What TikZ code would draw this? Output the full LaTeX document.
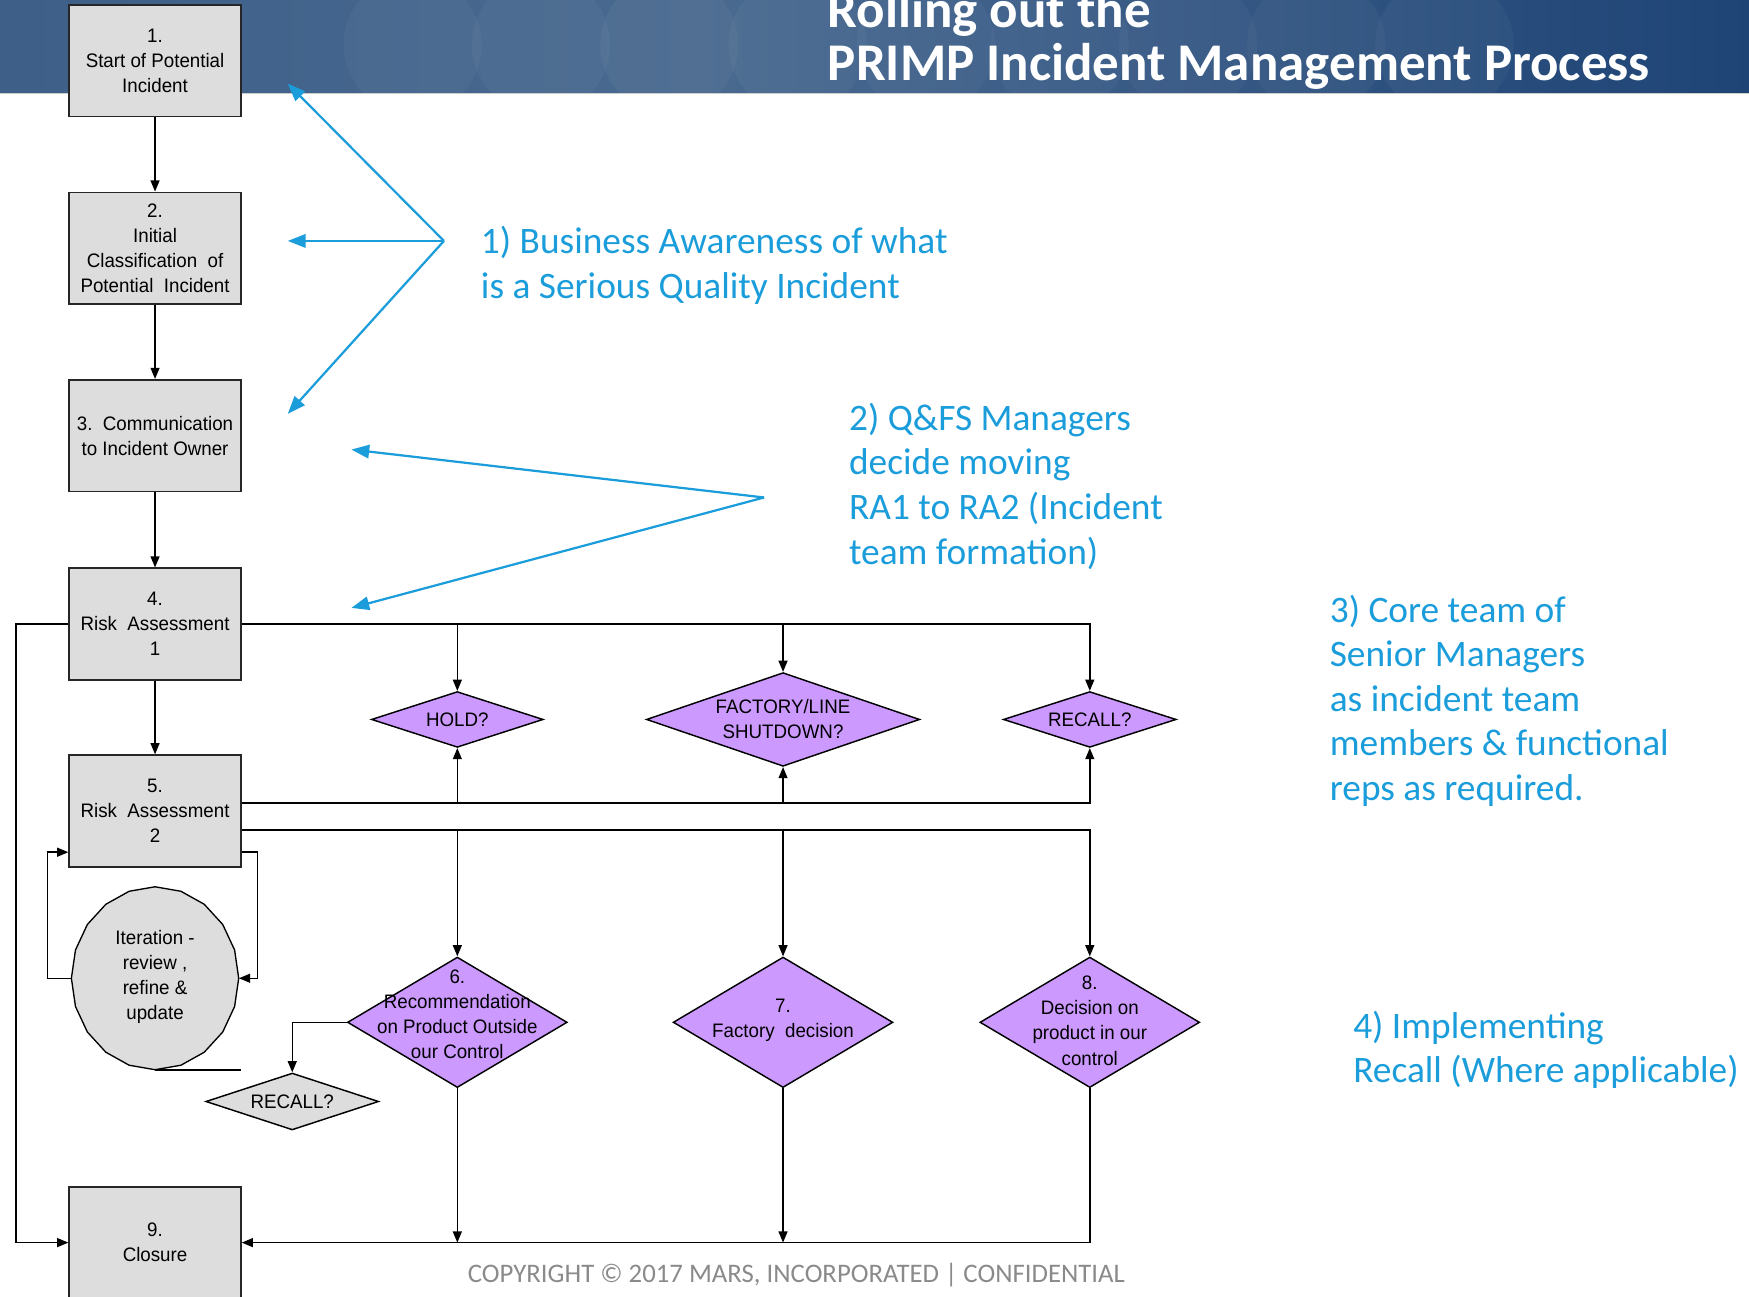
\documentclass[tikz,border=0pt]{standalone}
\usepackage{fontspec}
\setmainfont{Carlito}
\newfontfamily\boxfont[FakeStretch=0.96]{Liberation Sans}
\usetikzlibrary{arrows.meta,shapes.geometric}
\definecolor{hA}{HTML}{062858}
\definecolor{hB}{HTML}{3A5C86}
\definecolor{hC}{HTML}{4A6A90}
\definecolor{hD}{HTML}{1E4476}
\definecolor{hE}{HTML}{0C3060}
\definecolor{boxgray}{HTML}{DDDDDD}
\definecolor{lav}{HTML}{CC99FF}
\definecolor{ablue}{HTML}{1A9DDA}
\definecolor{cgray}{HTML}{8A8A8A}
\pgfdeclarehorizontalshading{hdr}{100bp}{color(0bp)=(hA); color(20bp)=(hB); color(45bp)=(hC); color(75bp)=(hD); color(100bp)=(hE)}
\begin{document}
\begin{tikzpicture}[x=1pt,y=-1pt,
  box/.style={draw=black!85, fill=boxgray, line width=1.5pt, minimum width=154pt, minimum height=100pt, inner sep=0pt, align=center, font=\boxfont\fontsize{17.5}{22.5}\selectfont},
  dia/.style={diamond, draw=black, fill=lav, line width=1.3pt, inner sep=0pt},
  lbl/.style={align=center, inner sep=0pt, font=\boxfont\fontsize{17.5}{22.5}\selectfont},
  conn/.style={line width=1.3pt},
  arr/.style={line width=1.3pt, -{Triangle[length=10pt,width=8pt]}},
  barr/.style={draw=ablue, line width=2pt, -{Triangle[length=16pt,width=12pt]}},
  note/.style={text=ablue, font=\fontsize{33.5}{40}\selectfont, align=left, anchor=north west, inner sep=0pt}]
\useasboundingbox (0,0) rectangle (1568,1162);
\clip (0,0) rectangle (1568,1162);
% header band
\shade[shading=hdr] (0,0) rectangle (1568,83);
\foreach \cx in {370,485,600,715,830,950,1065,1180,1295}
  \fill[white, opacity=0.035] (\cx,40) circle (62);
\draw[line width=1pt, draw=gray!40] (0,83.5) -- (1568,83.5);
\node[anchor=base west, inner sep=0pt, text=white, font=\bfseries\fontsize{47.5}{50}\selectfont] (t1) at (742,25) {Rolling out the};
\node[anchor=base west, inner sep=0pt, text=white, font=\bfseries\fontsize{47.5}{50}\selectfont] (t2) at (742,72) {PRIMP Incident Management Process};

% boxes
\node[box] (b1) at (139,54.5) {1.\\Start of Potential\\Incident};
\node[box] (b2) at (139,222.5) {2.\\Initial\\Classification\ \ of\\Potential\ \ Incident};
\node[box] (b3) at (139,390.5) {3.\ \ Communication\\to\ Incident\ Owner};
\node[box] (b4) at (139,559.5) {4.\\Risk\ \ Assessment\\1};
\node[box] (b5) at (139,727) {5.\\Risk\ \ Assessment\\2};
\node[box] (b9) at (139,1114) {9.\\Closure};

% iteration ellipse
\node[ellipse, minimum width=150pt, minimum height=164pt, inner sep=0pt] (it) at (139,877) {};
\draw[line width=1.2pt, fill=boxgray] plot[domain=0:360, samples=21] ({139+75*cos(\x)},{877+82*sin(\x)}) -- cycle;
\node[lbl] (itt) at (139,876) {Iteration\ -\\review ,\\refine \&\\update};
\draw[conn] (it.south) -- ++(77,0);

% diamonds
\node[dia, minimum width=154pt, minimum height=50pt] (hold) at (410,645) {};
\node[lbl] (holdt) at (hold.center) {HOLD?};
\node[dia, minimum width=245pt, minimum height=84pt] (shut) at (702,645) {};
\node[lbl] (shutt) at (shut.center) {FACTORY/LINE\\SHUTDOWN?};
\node[dia, minimum width=155pt, minimum height=50pt] (rec1) at (977,645) {};
\node[lbl] (rec1t) at (rec1.center) {RECALL?};
\node[dia, minimum width=197pt, minimum height=117pt] (d6) at (410,916.5) {};
\node[lbl] (d6t) at (410,909) {6.\\Recommendation\\on\ Product\ Outside\\our\ Control};
\node[dia, minimum width=197pt, minimum height=117pt] (d7) at (702,916.5) {};
\node[lbl] (d7t) at (702,915) {7.\\Factory\ \ decision};
\node[dia, minimum width=197pt, minimum height=117pt] (d8) at (977,916.5) {};
\node[lbl] (d8t) at (977,915) {8.\\Decision\ on\\product in our\\control};
\node[dia, fill=boxgray, minimum width=155pt, minimum height=51pt] (rec2) at (262,987.5) {};
\node[lbl] (rec2t) at (rec2.center) {RECALL?};

% main flow
\draw[arr] (b1.south) -- (b2.north);
\draw[arr] (b2.south) -- (b3.north);
\draw[arr] (b3.south) -- (b4.north);
\draw[arr] (b4.south) -- (b5.north);

% risk assessment 1 to questions
\draw[arr] (b4.east) -| (rec1.north);
\draw[arr] (hold.north |- b4.east) -- (hold.north);
\draw[arr] (shut.north |- b4.east) -- (shut.north);

% risk assessment 2 to questions
\coordinate (l1) at ([yshift=7pt]b5.east);
\coordinate (l2) at ([yshift=-17pt]b5.east);
\draw[arr] (l1) -| (rec1.south);
\draw[arr] (hold.south |- l1) -- (hold.south);
\draw[arr] (shut.south |- l1) -- (shut.south);
\draw[arr] (l2) -| (d8.north);
\draw[arr] (d6.north |- l2) -- (d6.north);
\draw[arr] (d7.north |- l2) -- (d7.north);

% iteration loop
\draw[arr] ([yshift=-37pt]b5.east) -- ++(14,0) |- (it.east);
\draw[arr] (it.west) -- ++(-21,0) |- ([yshift=-37pt]b5.west);

% to closure
\draw[arr] (b4.west) -- ++(-47,0) |- (b9.west);
\draw[arr] (d8.south) |- (b9.east);
\draw[arr] (d6.south) -- (d6.south |- b9.east);
\draw[arr] (d7.south) -- (d7.south |- b9.east);
\draw[arr] (d6.west) -| (rec2.north);

% annotations
\coordinate (s1) at (398,216);
\coordinate (e1) at (258,75);
\coordinate (e2) at (258,216);
\coordinate (e3) at (258,371);
\draw[barr] (s1) -- (e1);
\draw[barr] (s1) -- (e2);
\draw[barr] (s1) -- (e3);
\node[note] (n1) at (431,203) {1) Business Awareness of what\\is a Serious Quality Incident};

\coordinate (s2) at (685,446);
\coordinate (e4) at (315,403);
\coordinate (e5) at (315,545);
\draw[barr] (s2) -- (e4);
\draw[barr] (s2) -- (e5);
\node[note] (n2) at (761,361) {2) Q\&FS Managers\\decide moving\\RA1 to RA2 (Incident\\team formation)};

\node[note] (n3) at (1192,533) {3) Core team of\\Senior Managers\\as incident team\\members \& functional\\reps as required.};
\node[note] (n4) at (1213,906) {4) Implementing\\Recall (Where applicable)};

\node[anchor=base, inner sep=0pt, text=cgray, font=\fontsize{24}{26}\selectfont] (cp) at (714,1150) {COPYRIGHT \textcopyright{} 2017 MARS, INCORPORATED | CONFIDENTIAL};
\end{tikzpicture}
\end{document}
